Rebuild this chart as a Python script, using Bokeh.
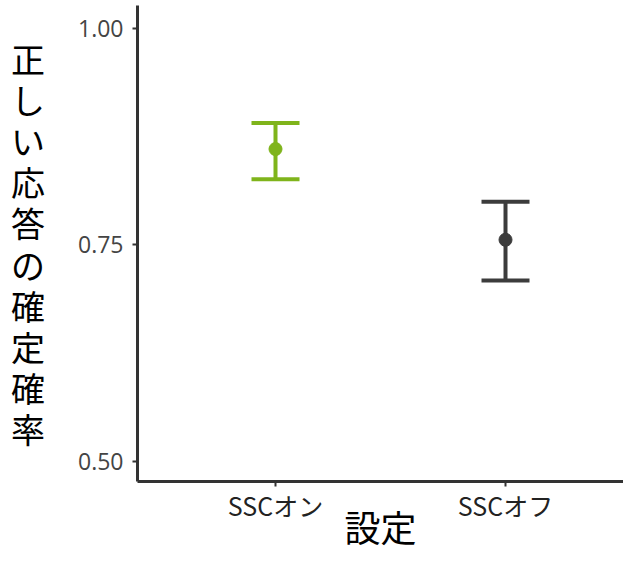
from bokeh.plotting import figure
from bokeh.models import Range1d, FixedTicker, ColumnDataSource
from bokeh.embed import file_html
from bokeh.resources import INLINE

# data
categories = ["SSCオン", "SSCオフ"]
means = [0.861, 0.756]
lowers = [0.826, 0.709]
uppers = [0.891, 0.800]
colors = ["#7fb41b", "#3c3c3c"]
y_ticks = [0.50, 0.75, 1.00]
y_tick_labels = ["0.50", "0.75", "1.00"]
x_title = "設定"
y_title = "正しい応答の確定確率"

xpos = [i + 1 for i in range(len(categories))]
src = ColumnDataSource(dict(x=xpos, m=means, lo=lowers, up=uppers, c=colors))

JP = "Noto Sans CJK JP"

p = figure(width=623, height=554, output_backend="svg", toolbar_location=None,
           x_range=Range1d(0.4, 2.513), y_range=Range1d(0.4763, 1.0271),
           min_border_left=137, min_border_right=0, min_border_top=5, min_border_bottom=61)
p.outline_line_color = None
p.xgrid.visible = False
p.ygrid.visible = False
p.background_fill_color = "white"
p.border_fill_color = "white"

p.segment(x0="x", y0="lo", x1="x", y1="up", source=src, line_color="c", line_width=4)
p.scatter(x="x", y="up", source=src, marker="dash", size=48, line_color="c", line_width=4)
p.scatter(x="x", y="lo", source=src, marker="dash", size=48, line_color="c", line_width=4)
p.scatter(x="x", y="m", source=src, size=13, fill_color="c", line_color="c")

for ax in (p.xaxis[0], p.yaxis[0]):
    ax.axis_line_color = "#333333"
    ax.axis_line_width = 3
    ax.major_tick_line_color = "#333333"
    ax.major_tick_line_width = 2
    ax.major_tick_out = 5
    ax.major_tick_in = 0
    ax.minor_tick_line_color = None

xa = p.xaxis[0]
xa.ticker = FixedTicker(ticks=xpos)
xa.major_label_overrides = {x: c for x, c in zip(xpos, categories)}
xa.major_label_text_font = JP
xa.major_label_text_font_size = "25px"
xa.major_label_text_color = "#222222"
xa.major_label_text_line_height = 0.9
xa.major_label_standoff = 0
xa.axis_label = x_title
xa.axis_label_text_font = JP
xa.axis_label_text_font_size = "36px"
xa.axis_label_text_font_style = "normal"
xa.axis_label_text_color = "#000000"
xa.axis_label_text_line_height = 0.8
xa.axis_label_standoff = -26

ya = p.yaxis[0]
ya.ticker = FixedTicker(ticks=y_ticks)
ya.major_label_overrides = {t: l for t, l in zip(y_ticks, y_tick_labels)}
ya.major_label_text_font = "Open Sans"
ya.major_label_text_font_size = "23px"
ya.major_label_text_color = "#444444"
ya.major_label_standoff = 9
ya.axis_label = "\n".join(list(y_title))
ya.axis_label_orientation = "horizontal"
ya.axis_label_text_font = JP
ya.axis_label_text_font_size = "34px"
ya.axis_label_text_font_style = "normal"
ya.axis_label_text_color = "#000000"
ya.axis_label_text_line_height = 0.84
ya.axis_label_standoff = 30

open("out.html", "w").write(file_html(p, INLINE))
